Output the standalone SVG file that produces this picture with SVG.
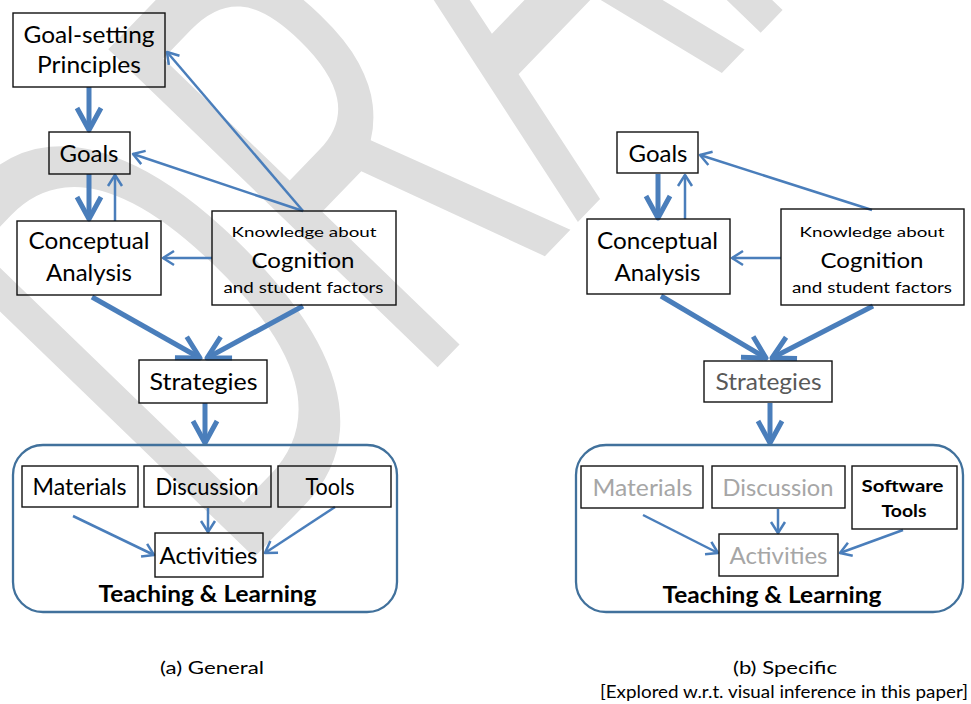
<svg xmlns="http://www.w3.org/2000/svg" width="971" height="704" viewBox="0 0 971 704">
<style>
.box{fill:none;stroke:#111;stroke-width:1.4}
.grp{fill:none;stroke:#41719c;stroke-width:2.3}
.t{font-family:Lato,"Open Sans",sans-serif;fill:#000;text-anchor:middle}
.b{font-weight:bold}
.g1{fill:#a6a6a6}
.g2{fill:#595959}
.thick{fill:none;stroke:#4a7ebb;stroke-width:5;marker-end:url(#hk)}
.thin{fill:none;stroke:#4a7ebb;stroke-width:2.5;marker-end:url(#hn)}
</style>
<defs>
<marker id="hk" markerUnits="userSpaceOnUse" markerWidth="40" markerHeight="40" viewBox="-30 -20 40 40" refX="0" refY="0" orient="auto">
<path d="M-22,-12 L0,0 L-22,12" fill="none" stroke="#4a7ebb" stroke-width="5" stroke-linejoin="round"/>
</marker>
<marker id="hn" markerUnits="userSpaceOnUse" markerWidth="30" markerHeight="30" viewBox="-15 -15 30 30" refX="0" refY="0" orient="auto">
<path d="M-11,-7 L0,0 L-11,7" fill="none" stroke="#4a7ebb" stroke-width="2.5" stroke-linejoin="round"/>
</marker>
</defs>
<rect width="971" height="704" fill="#fff"/>
<g id="watermark">
<text transform="translate(266,545) rotate(-46) scale(1,1.688)" font-family="'Open Sans',sans-serif" font-size="380" fill="#dedede" x="-54 210 449 675 884">DRAFT</text>
</g>
<g id="connectors">
<path class="thick" d="M89,87 V130"/>
<path class="thick" d="M89,174 V219"/>
<path class="thin" d="M115,221 V175"/>
<path class="thin" d="M303,211 L133,154"/>
<path class="thin" d="M303,211 L167,52"/>
<path class="thin" d="M212,258 H163"/>
<path class="thick" d="M92,297 L200,358"/>
<path class="thick" d="M303,306 L207,358"/>
<path class="thick" d="M205,403 V443"/>
<path class="thin" d="M73,516 L154,555"/>
<path class="thin" d="M208,508 V532"/>
<path class="thin" d="M335,507 L265,553"/>
<path class="thick" d="M658,174 V218"/>
<path class="thin" d="M685,219 V175"/>
<path class="thin" d="M872,210 L700,155"/>
<path class="thin" d="M781,258 H732"/>
<path class="thick" d="M661,296 L766,358"/>
<path class="thick" d="M873,306 L772,358"/>
<path class="thick" d="M770,403 V443"/>
<path class="thin" d="M643,515 L718,553"/>
<path class="thin" d="M778,509 V533"/>
<path class="thin" d="M903,530 L840,553"/>
</g>
<g id="a-goalsetting"><rect class="box" x="13" y="13" width="152" height="74"/>
<text class="t" x="89" y="43" font-size="23.3" textLength="131" lengthAdjust="spacingAndGlyphs">Goal-setting</text>
<text class="t" x="89" y="73" font-size="23.3" textLength="104" lengthAdjust="spacingAndGlyphs">Principles</text></g>
<g id="a-goals"><rect class="box" x="49" y="132" width="81" height="42"/>
<text class="t" x="89" y="162" font-size="23.3" textLength="59" lengthAdjust="spacingAndGlyphs">Goals</text></g>
<g id="a-conceptual"><rect class="box" x="17" y="221" width="144" height="74"/>
<text class="t" x="89" y="249" font-size="23.3" textLength="121" lengthAdjust="spacingAndGlyphs">Conceptual</text>
<text class="t" x="89" y="281" font-size="23.3" textLength="86" lengthAdjust="spacingAndGlyphs">Analysis</text></g>
<g id="a-knowledge"><rect class="box" x="212" y="211" width="184" height="94"/>
<text class="t" x="304" y="237" font-size="14" textLength="145" lengthAdjust="spacingAndGlyphs">Knowledge about</text>
<text class="t" x="303" y="268" font-size="22" textLength="103" lengthAdjust="spacingAndGlyphs">Cognition</text>
<text class="t" x="303.5" y="293" font-size="15" textLength="160" lengthAdjust="spacingAndGlyphs">and student factors</text></g>
<g id="a-strategies"><rect class="box" x="139" y="360" width="128" height="43"/>
<text class="t" x="203.5" y="390" font-size="23.3" textLength="108" lengthAdjust="spacingAndGlyphs">Strategies</text></g>
<g id="a-teaching"><rect class="grp" x="13" y="445" width="384" height="167" rx="30"/>
<text class="t b" x="207.5" y="602" font-size="23.3" textLength="218" lengthAdjust="spacingAndGlyphs">Teaching &amp; Learning</text></g>
<g id="a-materials"><rect class="box" x="22" y="466" width="116" height="41"/>
<text class="t" x="79.5" y="495" font-size="23.3" textLength="94" lengthAdjust="spacingAndGlyphs">Materials</text></g>
<g id="a-discussion"><rect class="box" x="144" y="466" width="127" height="41"/>
<text class="t" x="207" y="495" font-size="23.3" textLength="103" lengthAdjust="spacingAndGlyphs">Discussion</text></g>
<g id="a-tools"><rect class="box" x="278" y="466" width="113" height="41"/>
<text class="t" x="330" y="495" font-size="23.3" textLength="49" lengthAdjust="spacingAndGlyphs">Tools</text></g>
<g id="a-activities"><rect class="box" x="155" y="533" width="108" height="44"/>
<text class="t" x="208.5" y="563.5" font-size="23.3" textLength="98" lengthAdjust="spacingAndGlyphs">Activities</text></g>
<g id="b-goals"><rect class="box" x="617" y="132" width="81" height="41"/>
<text class="t" x="658" y="162" font-size="23.3" textLength="59" lengthAdjust="spacingAndGlyphs">Goals</text></g>
<g id="b-conceptual"><rect class="box" x="587" y="219" width="143" height="75"/>
<text class="t" x="657.5" y="249" font-size="23.3" textLength="121" lengthAdjust="spacingAndGlyphs">Conceptual</text>
<text class="t" x="657.5" y="281" font-size="23.3" textLength="86" lengthAdjust="spacingAndGlyphs">Analysis</text></g>
<g id="b-knowledge"><rect class="box" x="781" y="209" width="183" height="96"/>
<text class="t" x="872" y="237" font-size="14" textLength="145" lengthAdjust="spacingAndGlyphs">Knowledge about</text>
<text class="t" x="872" y="268" font-size="22" textLength="103" lengthAdjust="spacingAndGlyphs">Cognition</text>
<text class="t" x="872" y="293" font-size="15" textLength="160" lengthAdjust="spacingAndGlyphs">and student factors</text></g>
<g id="b-strategies"><rect class="box" x="704" y="361" width="128" height="41"/>
<text class="t g2" x="768.5" y="390" font-size="23.3" textLength="106" lengthAdjust="spacingAndGlyphs">Strategies</text></g>
<g id="b-teaching"><rect class="grp" x="576" y="445" width="387" height="167" rx="30"/>
<text class="t b" x="772" y="603" font-size="23.3" textLength="219" lengthAdjust="spacingAndGlyphs">Teaching &amp; Learning</text></g>
<g id="b-materials"><rect class="box" x="581" y="466" width="122" height="42"/>
<text class="t g1" x="642.5" y="496" font-size="23.3" textLength="100" lengthAdjust="spacingAndGlyphs">Materials</text></g>
<g id="b-discussion"><rect class="box" x="712" y="466" width="133" height="42"/>
<text class="t g1" x="778" y="496" font-size="23.3" textLength="111" lengthAdjust="spacingAndGlyphs">Discussion</text></g>
<g id="b-software"><rect class="box" x="852" y="466" width="105" height="63"/>
<text class="t b" x="902.5" y="492" font-size="17.7" textLength="82" lengthAdjust="spacingAndGlyphs">Software</text>
<text class="t b" x="904" y="517" font-size="17.7" textLength="45" lengthAdjust="spacingAndGlyphs">Tools</text></g>
<g id="b-activities"><rect class="box" x="719" y="534" width="119" height="42"/>
<text class="t g1" x="778.5" y="563.5" font-size="23.3" textLength="98" lengthAdjust="spacingAndGlyphs">Activities</text></g>
<g id="captions">
<text class="t" x="212" y="674" font-size="18" textLength="104" lengthAdjust="spacingAndGlyphs">(a) General</text>
<text class="t" x="785" y="674" font-size="18" textLength="104" lengthAdjust="spacingAndGlyphs">(b) Specific</text>
<text class="t" x="784" y="698" font-size="18" textLength="368" lengthAdjust="spacingAndGlyphs">[Explored w.r.t. visual inference in this paper]</text>
</g>
</svg>
